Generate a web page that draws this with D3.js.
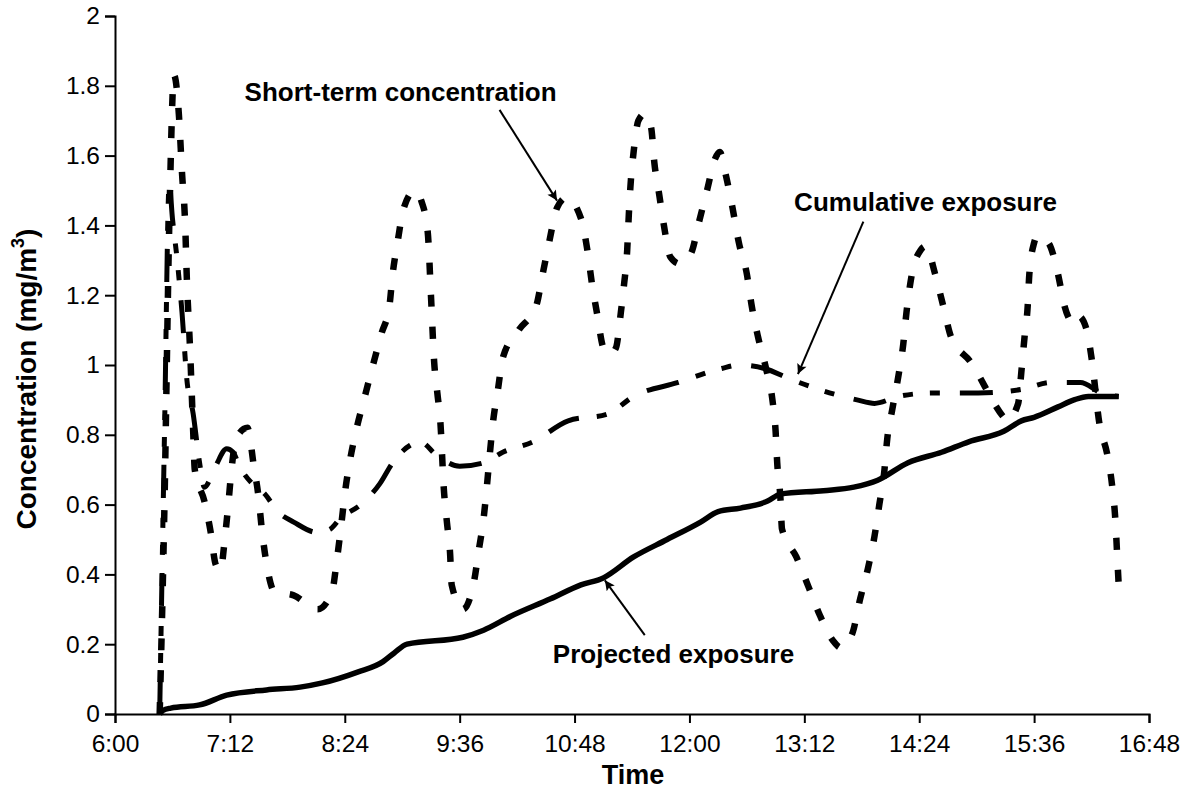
<!DOCTYPE html>
<html>
<head>
<meta charset="utf-8">
<script src="https://cdn.jsdelivr.net/npm/d3@7"></script>
<style>
  body { margin: 0; background: #fff; }
  text { font-family: "Liberation Sans", Arial, sans-serif; fill: #000; }
</style>
</head>
<body>
<div id="vis"></div>
<script>
// short-term concentration (mg/m3)
var stTime = ["6:28","6:31","6:34","6:37","6:40","6:42","6:44","6:45","6:47","6:49","6:50","6:56","7:00","7:03","7:06",
  "7:09","7:11","7:13","7:16","7:23","7:27","7:30","7:32","7:35","7:40","7:52","8:07","8:16","8:19","8:22","8:24",
  "8:27","8:31","8:36","8:47","8:52","8:54","8:57","9:01","9:08","9:12","9:16","9:18","9:20","9:22","9:24","9:26",
  "9:28","9:30","9:31","9:38","9:45","9:48","9:51","9:53","9:55","9:57","10:00","10:03","10:13","10:24","10:28",
  "10:32","10:37","10:43","10:52","10:56","10:59","11:02","11:06","11:10","11:14","11:17","11:19","11:21","11:22",
  "11:23","11:25","11:28","11:32","11:36","11:38","11:41","11:44","11:48","11:54","12:01","12:06","12:11","12:16",
  "12:19","12:23","12:27","12:31","12:36","12:39","12:43","12:48","12:52","12:54","12:55","12:57","12:58","13:07",
  "13:15","13:22","13:30","13:35","13:42","13:47","13:52","13:56","13:59","14:02","14:04","14:07","14:11","14:14",
  "14:16","14:19","14:25","14:28","14:34","14:39","14:44","14:56","15:17","15:19","15:26","15:28","15:30","15:32",
  "15:33","15:36","15:38","15:45","15:51","15:55","16:01","16:04","16:09","16:12","16:17","16:22","16:25","16:27",
  "16:28","16:29"];
var stValue = [0,0.6,1.4,1.83,1.72,1.55,1.4,1.25,1.05,0.81,0.7,0.61,0.52,0.43,0.41,
  0.51,0.6,0.7,0.79,0.82,0.71,0.62,0.53,0.43,0.35,0.34,0.3,0.35,0.44,0.55,0.63,
  0.72,0.81,0.9,1.09,1.17,1.26,1.35,1.45,1.5,1.47,1.38,1.2,1.01,0.92,0.83,0.65,
  0.55,0.46,0.37,0.3,0.38,0.47,0.56,0.65,0.75,0.84,0.93,1.02,1.1,1.17,1.26,
  1.35,1.45,1.48,1.42,1.33,1.23,1.15,1.05,1.03,1.05,1.15,1.23,1.33,1.43,
  1.51,1.61,1.7,1.72,1.68,1.58,1.49,1.4,1.31,1.29,1.32,1.41,1.5,1.59,
  1.61,1.54,1.45,1.35,1.26,1.17,1.08,0.99,0.9,0.81,0.72,0.62,0.53,0.45,
  0.36,0.28,0.21,0.19,0.23,0.33,0.42,0.51,0.6,0.69,0.79,0.87,0.97,1.06,
  1.15,1.25,1.33,1.34,1.26,1.17,1.08,1.01,0.85,0.84,0.89,0.98,1.08,1.17,
  1.26,1.35,1.37,1.35,1.26,1.17,1.12,1.14,1.1,1.02,0.83,0.74,0.65,0.55,
  0.46,0.37];

// cumulative exposure
var cumTime = ["6:28","6:31","6:34","6:36","6:39","6:42","6:45","6:49","6:53","6:56","7:03","7:10","7:14","7:18",
  "7:26","7:34","7:42","7:52","8:07","8:15","8:21","8:34","8:46","8:54","9:05","9:11","9:22","9:36","9:51","10:03",
  "10:22","10:44","11:09","11:25","11:53","12:20","12:31","12:47","13:03","13:21","13:45","13:56","14:11","14:33",
  "15:01","15:28","15:47","16:05","16:18","16:29"];
var cumValue = [0,0.8,1.52,1.42,1.3,1.15,0.96,0.86,0.72,0.65,0.71,0.76,0.75,0.71,
  0.66,0.63,0.58,0.55,0.52,0.53,0.56,0.6,0.66,0.72,0.77,0.78,0.74,0.71,0.72,0.75,
  0.78,0.84,0.86,0.91,0.95,0.99,1.0,0.99,0.96,0.93,0.9,0.89,0.91,0.92,
  0.92,0.93,0.95,0.95,0.92,0.91];

// projected exposure
var projTime = ["6:28","6:30","6:35","6:53","7:10","7:35","7:56","8:10","8:32","8:48","8:55","9:03","9:38","9:51",
  "10:08","10:33","10:52","11:06","11:25","11:46","12:07","12:18","12:32","12:49","12:57","13:24","13:43","13:58",
  "14:17","14:38","14:55","15:17","15:28","15:36","15:51","16:01","16:10","16:29"];
var projValue = [0,0.01,0.017,0.026,0.054,0.069,0.077,0.089,0.12,0.15,0.175,0.2,0.22,0.24,
  0.28,0.33,0.37,0.39,0.45,0.5,0.55,0.58,0.59,0.61,0.63,0.64,0.65,0.67,
  0.72,0.75,0.78,0.81,0.84,0.85,0.88,0.9,0.91,0.91];

// axis ticks
var xTickLabels = ["6:00","7:12","8:24","9:36","10:48","12:00","13:12","14:24","15:36","16:48"];
var yTicks = [0,0.2,0.4,0.6,0.8,1,1.2,1.4,1.6,1.8,2];

// annotations (text anchor point and arrow, in chart units)
var noteText = ["Short-term concentration","Cumulative exposure","Projected exposure"];
var noteTime = ["8:59","14:28","11:50"];
var noteValue = [1.757,1.44,0.146];
var arrowFromTime = ["10:01","13:49","11:32"];
var arrowFromValue = [1.731,1.411,0.226];
var arrowToTime = ["10:37","13:08","11:07"];
var arrowToValue = [1.471,0.974,0.383];

function toMin(s) {
  var p = s.split(":");
  return +p[0] * 60 + +p[1];
}
function zip(times, values) {
  return times.map(function(t, i) { return {t: toMin(t), v: values[i]}; });
}

var margin = {top: 16, right: 34, bottom: 81, left: 115},
    width = 1183 - margin.left - margin.right,
    height = 795 - margin.top - margin.bottom;

var svg = d3.select("#vis").append("svg")
    .attr("width", 1183)
    .attr("height", 795);

svg.append("defs").append("marker")
    .attr("id", "arrow")
    .attr("viewBox", "0 -5 10 10")
    .attr("refX", 10)
    .attr("refY", 0)
    .attr("markerUnits", "userSpaceOnUse")
    .attr("markerWidth", 13)
    .attr("markerHeight", 10)
    .attr("orient", "auto")
  .append("path")
    .attr("d", "M0,-5L10,0L0,5L2,0Z")
    .attr("fill", "#000");

var g = svg.append("g")
    .attr("transform", "translate(" + margin.left + "," + margin.top + ")");

var x = d3.scaleLinear()
    .domain([toMin(xTickLabels[0]), toMin(xTickLabels[xTickLabels.length - 1])])
    .range([0, width]);
var y = d3.scaleLinear()
    .domain([0, 2])
    .range([height, 0]);

// X axis
var xAxis = g.append("g")
    .attr("transform", "translate(0," + height + ")")
    .call(d3.axisBottom(x)
      .tickValues(xTickLabels.map(toMin))
      .tickFormat(function(d, i) { return xTickLabels[i]; })
      .tickSize(9)
      .tickPadding(12));

// Y axis
var yAxis = g.append("g")
    .call(d3.axisLeft(y)
      .tickValues(yTicks)
      .tickFormat(function(d) { return String(+d.toFixed(1)); })
      .tickSize(10)
      .tickPadding(5));

[xAxis, yAxis].forEach(function(ax) {
  ax.select(".domain").attr("stroke", "#000").attr("stroke-width", 2);
  ax.selectAll(".tick line").attr("stroke", "#000").attr("stroke-width", 2);
  ax.selectAll(".tick text")
    .attr("font-family", "Liberation Sans, Arial, sans-serif")
    .attr("font-size", 24.5)
    .attr("fill", "#000");
});

// axis titles
svg.append("text")
    .attr("x", margin.left + width / 2 + 1)
    .attr("y", 784)
    .attr("text-anchor", "middle")
    .attr("font-size", 27)
    .attr("font-weight", "bold")
    .text("Time");

var yTitle = svg.append("text")
    .attr("transform", "translate(36," + (margin.top + height / 2 + 14) + ")rotate(-90)")
    .attr("text-anchor", "middle")
    .attr("font-size", 28)
    .attr("font-weight", "bold");
yTitle.append("tspan").text("Concentration (mg/m");
yTitle.append("tspan").attr("font-size", 18).attr("dy", -12).text("3");
yTitle.append("tspan").attr("dy", 12).text(")");

// lines
var line = d3.line()
    .x(function(d) { return x(d.t); })
    .y(function(d) { return y(d.v); })
    .curve(d3.curveMonotoneX);

g.append("path")
    .datum(zip(projTime, projValue))
    .attr("fill", "none")
    .attr("stroke", "#000")
    .attr("stroke-width", 5.5)
    .attr("stroke-linejoin", "round")
    .attr("d", line);

g.append("path")
    .datum(zip(cumTime, cumValue))
    .attr("fill", "none")
    .attr("stroke", "#000")
    .attr("stroke-width", 5)
    .attr("stroke-dasharray", "33,18,10,17,10,20")
    .attr("d", line);

g.append("path")
    .datum(zip(stTime, stValue))
    .attr("fill", "none")
    .attr("stroke", "#000")
    .attr("stroke-width", 6.5)
    .attr("stroke-dasharray", "12,20")
    .attr("d", line);

// annotations
noteText.forEach(function(txt, i) {
  g.append("text")
    .attr("x", x(toMin(noteTime[i])))
    .attr("y", y(noteValue[i]))
    .attr("text-anchor", "middle")
    .attr("font-size", 26)
    .attr("font-weight", "bold")
    .text(txt);
  g.append("line")
    .attr("x1", x(toMin(arrowFromTime[i])))
    .attr("y1", y(arrowFromValue[i]))
    .attr("x2", x(toMin(arrowToTime[i])))
    .attr("y2", y(arrowToValue[i]))
    .attr("stroke", "#000")
    .attr("stroke-width", 2)
    .attr("marker-end", "url(#arrow)");
});
</script>
</body>
</html>
